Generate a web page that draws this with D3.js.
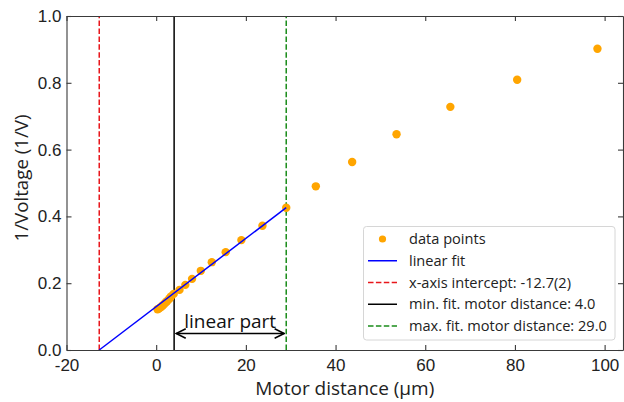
<!DOCTYPE html>
<html>
<head>
<meta charset="utf-8">
<script src="https://d3js.org/d3.v7.min.js"></script>
<style>
  html, body { margin: 0; padding: 0; background: #fff; }
  svg { display: block; font-family: "Open Sans", sans-serif; }
</style>
</head>
<body>
<svg id="chart" width="624" height="402"></svg>
<script>
// Data points (motor distance in µm, 1/voltage in 1/V)
const motorDist = [0.3, 0.6, 0.9, 1.2, 1.5, 1.8, 2.1, 2.4, 2.7, 3.0, 3.3, 3.9, 5.2, 6.5, 8.0, 9.95, 12.4, 15.5, 19.0, 23.7, 29.0, 35.6, 43.7, 53.6, 65.6, 80.5, 98.4];
const invVoltage = [0.122, 0.124, 0.127, 0.130, 0.134, 0.138, 0.142, 0.146, 0.150, 0.155, 0.160, 0.168, 0.180, 0.195, 0.213, 0.237, 0.263, 0.293, 0.329, 0.372, 0.426, 0.490, 0.563, 0.646, 0.728, 0.809, 0.902];

// Fit results
const intercept = -12.7;
const slope = 0.01022;
const fitMin = 4.0;
const fitMax = 29.0;

const xTicks = [-20, 0, 20, 40, 60, 80, 100];
const yTicks = [0.0, 0.2, 0.4, 0.6, 0.8, 1.0];

const legendLabels = [
  'data points',
  'linear fit',
  'x-axis intercept: -12.7(2)',
  'min. fit. motor distance: 4.0',
  'max. fit. motor distance: 29.0'
];

const colors = {
  points: '#ffa500',
  fit: '#0000ff',
  intercept: '#e8161b',
  min: '#000000',
  max: '#1a8c1a',
  spine: '#3a3a3a',
  text: '#222'
};

const margin = { left: 66.5, right: 1, top: 16, bottom: 52 };
const width = 624, height = 402;

const svg = d3.select('#chart');

const x = d3.scaleLinear().domain([-20, 104.1]).range([margin.left, width - margin.right]);
const y = d3.scaleLinear().domain([0, 1]).range([height - margin.bottom, margin.top]);

// Vertical reference lines
function vline(xv, color, dashed) {
  svg.append('line')
    .attr('x1', x(xv)).attr('x2', x(xv))
    .attr('y1', y(0)).attr('y2', y(1))
    .attr('stroke', color)
    .attr('stroke-width', 1.5)
    .attr('stroke-dasharray', dashed ? '5.5,2.4' : null);
}
vline(intercept, colors.intercept, true);
vline(fitMin, colors.min, false);
vline(fitMax, colors.max, true);

// Points
svg.append('g')
  .selectAll('circle')
  .data(motorDist.map((d, i) => [d, invVoltage[i]]))
  .enter()
  .append('circle')
  .attr('cx', d => x(d[0]))
  .attr('cy', d => y(d[1]))
  .attr('r', 4.2)
  .attr('fill', colors.points);

// Linear fit
const fitLine = d3.line().x(d => x(d)).y(d => y(slope * (d - intercept)));
svg.append('path')
  .attr('d', fitLine([intercept, fitMax]))
  .attr('fill', 'none')
  .attr('stroke', colors.fit)
  .attr('stroke-width', 1.5);

// Annotation arrow
const defs = svg.append('defs');
defs.append('marker')
  .attr('id', 'arrow')
  .attr('viewBox', '0 0 10 10')
  .attr('refX', 9).attr('refY', 5)
  .attr('markerWidth', 8).attr('markerHeight', 8)
  .attr('orient', 'auto-start-reverse')
  .append('path')
  .attr('d', 'M1,1 L9,5 L1,9')
  .attr('fill', 'none')
  .attr('stroke', '#000')
  .attr('stroke-width', 1.3);

const arrowY = 333.5;
svg.append('line')
  .attr('x1', x(fitMin) + 2).attr('x2', x(fitMax) - 2)
  .attr('y1', arrowY).attr('y2', arrowY)
  .attr('stroke', '#000')
  .attr('stroke-width', 1.5)
  .attr('marker-start', 'url(#arrow)')
  .attr('marker-end', 'url(#arrow)');

svg.append('text')
  .attr('x', (x(fitMin) + x(fitMax)) / 2)
  .attr('y', 327.5)
  .attr('text-anchor', 'middle')
  .attr('font-size', 19)
  .attr('fill', '#111')
  .text('linear part');

// Axes (ticks pointing inward on all sides)
const fmtX = d => d < 0 ? '-' + Math.abs(d) : d;
svg.append('g')
  .attr('transform', `translate(0,${y(0)})`)
  .call(d3.axisBottom(x).tickValues(xTicks).tickSizeInner(-5).tickSizeOuter(0).tickPadding(9).tickFormat(fmtX))
  .call(g => g.selectAll('text').attr('font-size', 17).attr('fill', colors.text));
svg.append('g')
  .attr('transform', `translate(0,${y(1)})`)
  .call(d3.axisTop(x).tickValues(xTicks).tickSizeInner(-5).tickSizeOuter(0).tickFormat(''));
svg.append('g')
  .attr('transform', `translate(${x(-20)},0)`)
  .call(d3.axisLeft(y).tickValues(yTicks).tickSizeInner(-5).tickSizeOuter(0).tickPadding(5).tickFormat(d3.format('.1f')))
  .call(g => g.selectAll('text').attr('font-size', 17).attr('fill', colors.text));
svg.append('g')
  .attr('transform', `translate(${x(104.1)},0)`)
  .call(d3.axisRight(y).tickValues(yTicks).tickSizeInner(-5).tickSizeOuter(0).tickFormat(''));

svg.selectAll('.domain, .tick line').attr('stroke', colors.spine).attr('stroke-width', 1.1);

// Axis labels
svg.append('text')
  .attr('x', (x(-20) + x(104.1)) / 2)
  .attr('y', 395)
  .attr('text-anchor', 'middle')
  .attr('font-size', 19)
  .attr('fill', colors.text)
  .text('Motor distance (\u03bcm)');

svg.append('text')
  .attr('transform', `translate(28,${(y(0) + y(1)) / 2 - 5}) rotate(-90)`)
  .attr('text-anchor', 'middle')
  .attr('font-size', 18.7)
  .attr('fill', colors.text)
  .text('1/Voltage (1/V)');

// Legend
const lg = svg.append('g').attr('transform', 'translate(363.5,226.5)');
lg.append('rect')
  .attr('width', 251.5).attr('height', 113.5)
  .attr('rx', 3)
  .attr('fill', '#fff')
  .attr('fill-opacity', 0.85)
  .attr('stroke', '#d6d6d6');

const rowY = d3.scaleLinear().domain([0, 4]).range([12.5, 99.5]);
const handleX0 = 4.5, handleX1 = 33.5;
const legendStyles = [
  { kind: 'point', color: colors.points },
  { kind: 'line', color: colors.fit },
  { kind: 'dash', color: colors.intercept },
  { kind: 'line', color: colors.min },
  { kind: 'dash', color: colors.max }
];

legendLabels.forEach((label, i) => {
  const s = legendStyles[i];
  const cy = rowY(i);
  if (s.kind === 'point') {
    lg.append('circle').attr('cx', (handleX0 + handleX1) / 2).attr('cy', cy).attr('r', 3.6).attr('fill', s.color);
  } else {
    lg.append('line')
      .attr('x1', handleX0).attr('x2', handleX1)
      .attr('y1', cy).attr('y2', cy)
      .attr('stroke', s.color)
      .attr('stroke-width', 1.5)
      .attr('stroke-dasharray', s.kind === 'dash' ? '5.5,2.4' : null);
  }
  lg.append('text')
    .attr('x', 45.5)
    .attr('y', cy)
    .attr('dy', '0.35em')
    .attr('font-size', 14.6)
    .attr('fill', colors.text)
    .text(label);
});
</script>
</body>
</html>
